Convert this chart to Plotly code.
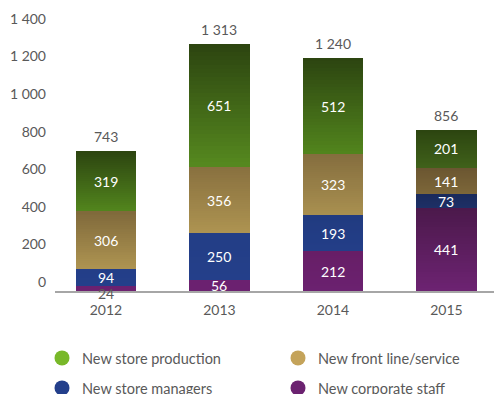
import plotly.graph_objects as go

# ---- data -------------------------------------------------------------
years = ["2012", "2013", "2014", "2015"]
series_names = ["New corporate staff", "New store managers",
                "New front line/service", "New store production"]
corporate = [24, 56, 212, 441]
managers = [94, 250, 193, 73]
front_line = [306, 356, 323, 141]
production = [319, 651, 512, 201]
y_ticks = [0, 200, 400, 600, 800, 1000, 1200, 1400]

# ---- styling ----------------------------------------------------------
FONT = "Lato"
GREY = "#595959"
legend_colors = {
    "New store production": "#78b829",
    "New front line/service": "#c4a35a",
    "New store managers": "#233f8b",
    "New corporate staff": "#6b2270",
}
# (top colour, bottom colour) of each column segment, per year
gradients = {
    "New store production": [("#2c4410", "#52851d"), ("#2c4410", "#56891f"),
                             ("#2c4410", "#52851d"), ("#2c4510", "#40611a")],
    "New front line/service": [("#7f693b", "#ae9451"), ("#88703f", "#ae9451"),
                               ("#846d3e", "#a99050"), ("#6b5631", "#7d6739")],
    "New store managers": [("#233e88", "#243f8a"), ("#233e86", "#243f8a"),
                           ("#213b80", "#233e88"), ("#1a2a5c", "#1d3066")],
    "New corporate staff": [("#6b2170", "#6d2170"), ("#6b2170", "#6b2170"),
                            ("#671e66", "#6b2170"), ("#4b194b", "#6d2372")],
}
BAR_WIDTH = 0.53
SLICES = 30


def hex_to_rgb(h):
    h = h.lstrip("#")
    return tuple(int(h[i:i + 2], 16) for i in (0, 2, 4))


def mix(c_bottom, c_top, t):
    a, b = hex_to_rgb(c_bottom), hex_to_rgb(c_top)
    return "rgb(%d,%d,%d)" % tuple(round(a[k] + (b[k] - a[k]) * t) for k in range(3))


def fmt(v):
    return f"{v:,}".replace(",", " ")


stack = [corporate, managers, front_line, production]
totals = [sum(col) for col in zip(*stack)]

fig = go.Figure()

# vertical gradient columns: each segment is painted bottom-to-top with
# progressively shorter bars, so every slice is covered by the next one
bases = [0] * len(years)
for name, values in zip(series_names, stack):
    for i in range(SLICES):
        frac = i / SLICES
        fig.add_trace(go.Bar(
            x=years,
            y=[v * (1 - frac) for v in values],
            base=[b + v * frac for b, v in zip(bases, values)],
            width=BAR_WIDTH,
            marker=dict(
                color=[mix(bot, top, frac + 0.5 / SLICES)
                       for (top, bot) in gradients[name]],
                line=dict(width=0),
            ),
            showlegend=False,
            hoverinfo="skip",
        ))
    # value labels in the middle of each segment (category index on x)
    for xi, (b, v) in enumerate(zip(bases, values)):
        small = v < 40
        fig.add_annotation(
            x=xi, y=b + v / 2, text=str(v), showarrow=False,
            font=dict(family=FONT, size=14, color=GREY if small else "white"),
            yshift=-5 if small else 0,
        )
    bases = [b + v for b, v in zip(bases, values)]

# totals above the columns
for xi, t in enumerate(totals):
    fig.add_annotation(
        x=xi, y=t, text=fmt(t), showarrow=False, yanchor="bottom", yshift=4,
        font=dict(family=FONT, size=14, color=GREY),
    )

# legend: one entry per legend box, laid out as two rows of two
legend_slots = {
    "New store production": ("legend", 0.0, 358),
    "New front line/service": ("legend2", 236.0, 358),
    "New store managers": ("legend3", 0.0, 388),
    "New corporate staff": ("legend4", 236.0, 388),
}
LEGEND_LEFT = 42
legend_layout = {}
for name, (legend_id, dx, y_px) in legend_slots.items():
    fig.add_trace(go.Scatter(
        x=[None], y=[None], mode="markers", name=name, legend=legend_id,
        marker=dict(symbol="circle", size=15, color=legend_colors[name]),
    ))
    legend_layout[legend_id] = dict(
        orientation="h", xref="container", yref="container",
        x=(LEGEND_LEFT + dx) / 494, y=1 - y_px / 394,
        xanchor="left", yanchor="middle",
        font=dict(family=FONT, size=14.5, color=GREY),
        bgcolor="rgba(0,0,0,0)", itemsizing="trace",
    )

fig.update_layout(
    width=494, height=394,
    margin=dict(l=55, r=0, t=9, b=103),
    paper_bgcolor="white", plot_bgcolor="white",
    barmode="overlay", bargap=0,
    separators=". ",
    font=dict(family=FONT, size=14, color=GREY),
    xaxis=dict(
        type="category", range=[-0.449, 3.419],
        showline=True, linecolor="#a6a6a6", linewidth=1.5,
        showgrid=False, ticks="", ticklabelstandoff=5,
        tickfont=dict(family=FONT, size=14, color=GREY),
    ),
    yaxis=dict(
        range=[0, 1500], tickvals=y_ticks,
        ticktext=[fmt(v) for v in y_ticks],
        showgrid=False, zeroline=False, showline=False, ticks="",
        ticklabelshift=-9, ticklabelstandoff=8,
        tickfont=dict(family=FONT, size=14, color=GREY),
    ),
    **legend_layout,
)

fig.write_html("out.html")
